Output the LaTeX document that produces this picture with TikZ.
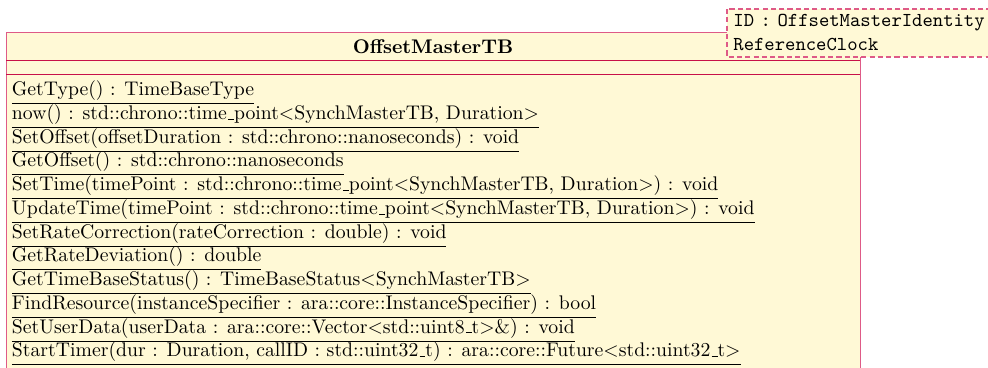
\documentclass[tikz,border=0pt]{standalone}
\usepackage{tikz}
\usetikzlibrary{positioning}
\usepackage{xcolor}
\definecolor{umlfill}{RGB}{255,249,214}
\definecolor{umlsplit}{RGB}{200,16,72}
\definecolor{umlframe}{RGB}{222,90,135}
\newcommand{\usc}{\kern.06em\vbox{\hrule width.3em}}
\tikzset{
    classframe/.style={
        draw=umlframe,
        fill=umlfill,
        line width=0.5pt
    },
    splitline/.style={
        draw=umlsplit,
        line width=0.4pt
    },
    tmplframe/.style={
        draw=umlframe,
        fill=umlfill,
        line width=0.7pt,
        dash pattern=on 2.6pt off 1.6pt
    },
    oper/.style={
        anchor=base west,
        inner sep=0pt
    }
}

\begin{document}
\begin{tikzpicture}[x=0.507pt, y=-0.507pt]
      \useasboundingbox (0,0) rectangle (988,367);
      \clip (0,0) rectangle (988,367);

      % class OffsetMasterTB
      \draw[classframe] (6,32.5) rectangle (860,420);
      \draw[splitline] (6,60) -- (860,60);
      \draw[splitline] (6,74.3) -- (860,74.3);
      \node[anchor=base, inner sep=0pt] (name) at (433,53.5) {\bfseries OffsetMasterTB};

      % template
      \draw[tmplframe] (727,9) rectangle (1010,57);
      \node[oper] (tid)  at (733,26.7) {\texttt{ID}\ \texttt{:}\ \texttt{OffsetMasterIdentity}};
      \node[oper] (tref) at (733,50.3) {\texttt{ReferenceClock}};

      % operations
      \node[oper] (op1)  at (11.6,95.7)   {\underline{GetType() : TimeBaseType}};
      \node[oper] (op2)  at (11.6,119.45) {\underline{now() : std::chrono::time\usc point$<$SynchMasterTB, Duration$>$}};
      \node[oper] (op3)  at (11.6,143.2)  {\underline{SetOffset(offsetDuration : std::chrono::nanoseconds) : void}};
      \node[oper] (op4)  at (11.6,166.95) {\underline{GetOffset() : std::chrono::nanoseconds}};
      \node[oper] (op5)  at (11.6,190.7)  {\underline{SetTime(timePoint : std::chrono::time\usc point$<$SynchMasterTB, Duration$>$) : void}};
      \node[oper] (op6)  at (11.6,214.45) {\underline{UpdateTime(timePoint : std::chrono::time\usc point$<$SynchMasterTB, Duration$>$) : void}};
      \node[oper] (op7)  at (11.6,238.2)  {\underline{SetRateCorrection(rateCorrection : double) : void}};
      \node[oper] (op8)  at (11.6,261.95) {\underline{GetRateDeviation() : double}};
      \node[oper] (op9)  at (11.6,285.7)  {\underline{GetTimeBaseStatus() : TimeBaseStatus$<$SynchMasterTB$>$}};
      \node[oper] (op10) at (11.6,309.45) {\underline{FindResource(instanceSpecifier : ara::core::InstanceSpecifier) : bool}};
      \node[oper] (op11) at (11.6,333.2)  {\underline{SetUserData(userData : ara::core::Vector$<$std::uint8\usc t$>$\&) : void}};
      \node[oper] (op12) at (11.6,356.95) {\underline{StartTimer(dur : Duration, callID : std::uint32\usc t) : ara::core::Future$<$std::uint32\usc t$>$}};
\end{tikzpicture}
\end{document}
